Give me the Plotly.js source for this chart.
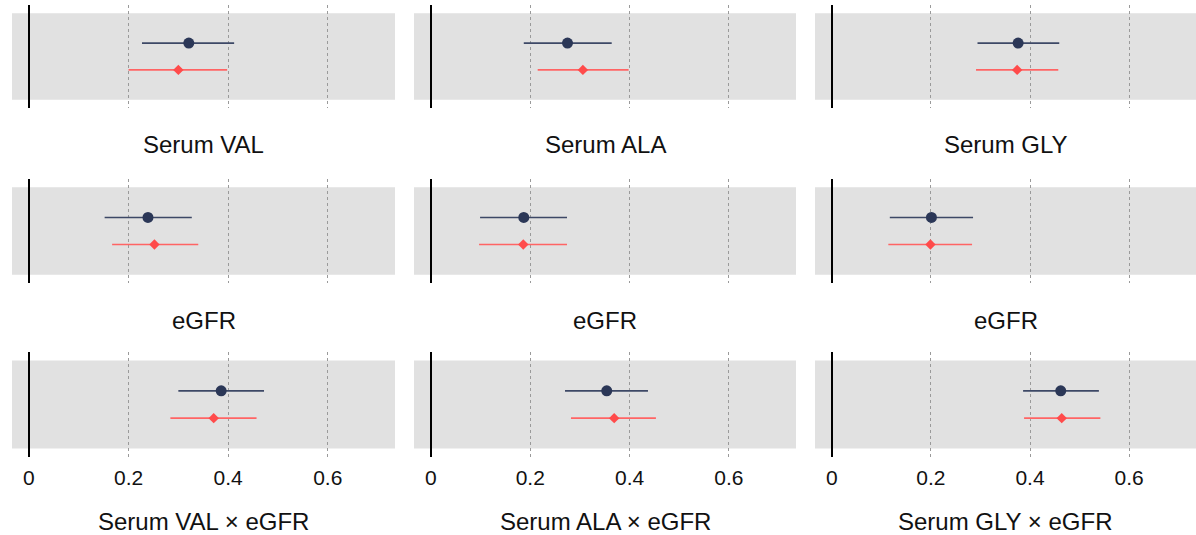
<!DOCTYPE html>
<html>
<head>
<meta charset="utf-8">
<script src="https://cdn.plot.ly/plotly-3.0.1.min.js"></script>
<style>html,body{margin:0;padding:0;background:#fff;}#chart{width:1196px;height:535px;}</style>
</head>
<body>
<div id="chart"></div>
<script>
// ---- data ----
var panelTitles = ['Serum VAL', 'Serum ALA', 'Serum GLY',
                   'eGFR', 'eGFR', 'eGFR',
                   'Serum VAL × eGFR', 'Serum ALA × eGFR', 'Serum GLY × eGFR'];
var seriesNames = ['Model 1', 'Model 2'];
var model1Est  = [0.321, 0.275, 0.376, 0.239, 0.187, 0.201, 0.386, 0.354, 0.462];
var model1Low  = [0.227, 0.187, 0.294, 0.152, 0.099, 0.117, 0.300, 0.270, 0.386];
var model1High = [0.412, 0.364, 0.459, 0.327, 0.274, 0.285, 0.472, 0.437, 0.539];
var model2Est  = [0.300, 0.306, 0.374, 0.252, 0.186, 0.199, 0.371, 0.369, 0.464];
var model2Low  = [0.200, 0.215, 0.291, 0.167, 0.097, 0.114, 0.284, 0.282, 0.388];
var model2High = [0.398, 0.398, 0.457, 0.340, 0.274, 0.283, 0.457, 0.453, 0.542];
var tickValues = [0, 0.2, 0.4, 0.6];
var tickLabels = ['0', '0.2', '0.4', '0.6'];

// ---- layout helpers ----
var W = 1196, H = 535;
var colPx = [[12, 395], [414, 796], [815, 1196]];
var rowPx = [[5, 108], [179, 283], [352, 457]];
var titleY = [145, 320, 521];
var xRange = [-0.034, 0.735];
var FONT = 'Liberation Sans, Arial, sans-serif';

var traces = [];
var layout = {
  width: W, height: H,
  margin: {l: 0, r: 0, t: 0, b: 0},
  paper_bgcolor: '#ffffff',
  plot_bgcolor: '#ffffff',
  showlegend: false,
  font: {family: FONT, color: '#111111'},
  shapes: [],
  annotations: []
};

for (var i = 0; i < 9; i++) {
  var r = Math.floor(i / 3), c = i % 3;
  var n = i + 1;
  var xa = 'x' + (n === 1 ? '' : n), ya = 'y' + (n === 1 ? '' : n);
  var xkey = 'xaxis' + (n === 1 ? '' : n), ykey = 'yaxis' + (n === 1 ? '' : n);

  layout[xkey] = {
    domain: [colPx[c][0] / W, colPx[c][1] / W],
    anchor: ya,
    range: xRange,
    tickmode: 'array',
    tickvals: tickValues,
    ticktext: tickLabels,
    showticklabels: r === 2,
    tickfont: {family: FONT, size: 21, color: '#111111'},
    ticklabelstandoff: 6,
    ticks: '',
    showgrid: true,
    gridcolor: '#9a9a9a',
    gridwidth: 1,
    griddash: 'dot',
    zeroline: true,
    zerolinecolor: '#000000',
    zerolinewidth: 2,
    showline: false,
    fixedrange: true
  };
  layout[ykey] = {
    domain: [1 - rowPx[r][1] / H, 1 - rowPx[r][0] / H],
    anchor: xa,
    range: [0, 1],
    showticklabels: false,
    showgrid: false,
    zeroline: false,
    ticks: '',
    fixedrange: true
  };

  layout.shapes.push({
    type: 'rect', layer: 'below',
    xref: xa + ' domain', x0: 0, x1: 1,
    yref: ya, y0: 0.08, y1: 0.92,
    fillcolor: '#e1e1e1', line: {width: 0}
  });

  layout.annotations.push({
    text: panelTitles[i],
    xref: 'paper', yref: 'paper',
    x: (colPx[c][0] + colPx[c][1]) / 2 / W,
    y: 1 - titleY[r] / H,
    xanchor: 'center', yanchor: 'middle',
    showarrow: false,
    font: {family: FONT, size: 24, color: '#111111'}
  });

  traces.push({
    type: 'scatter', mode: 'markers',
    name: seriesNames[0],
    x: [model1Est[i]], y: [0.63],
    xaxis: xa, yaxis: ya,
    marker: {symbol: 'circle', size: 11, color: '#2b3757'},
    error_x: {
      type: 'data', symmetric: false,
      array: [model1High[i] - model1Est[i]],
      arrayminus: [model1Est[i] - model1Low[i]],
      color: '#3d4866', thickness: 1.6, width: 0
    },
    hoverinfo: 'x'
  });
  traces.push({
    type: 'scatter', mode: 'markers',
    name: seriesNames[1],
    x: [model2Est[i]], y: [0.37],
    xaxis: xa, yaxis: ya,
    marker: {symbol: 'diamond', size: 8, color: '#ff4b4b'},
    error_x: {
      type: 'data', symmetric: false,
      array: [model2High[i] - model2Est[i]],
      arrayminus: [model2Est[i] - model2Low[i]],
      color: '#ff6464', thickness: 1.6, width: 0
    },
    hoverinfo: 'x'
  });
}

Plotly.newPlot('chart', traces, layout, {displayModeBar: false, staticPlot: true});
</script>
</body>
</html>
